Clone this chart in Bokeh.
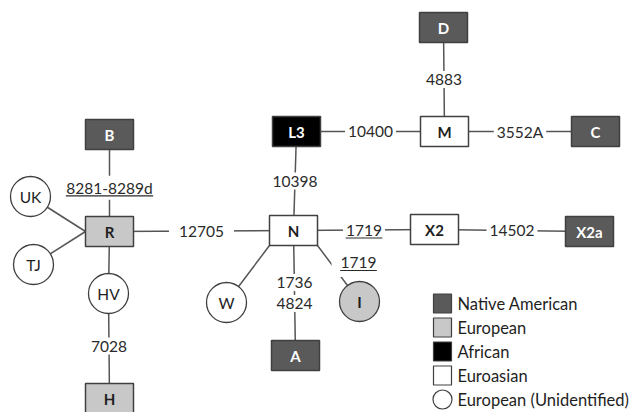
from bokeh.plotting import figure
from bokeh.models import Range1d
from bokeh.core.properties import value
from bokeh.embed import file_html
from bokeh.resources import INLINE

# ---------------- data ----------------
node_names = ["D", "M", "L3", "C", "N", "X2", "X2a", "B", "R", "H", "A",
              "UK", "TJ", "HV", "W", "I"]
node_x = [443, 444, 296, 595, 293, 434, 589, 109, 109, 109, 295,
          30, 33, 108, 226, 359]
node_y = [27, 131, 131, 131, 230, 229, 231, 134, 231, 398, 355,
          196, 264, 293, 302, 301]
node_kind = ["Native American", "Euroasian", "African", "Native American",
             "Euroasian", "Euroasian", "Native American", "Native American",
             "European", "European", "Native American",
             "European (Unidentified)", "European (Unidentified)",
             "European (Unidentified)", "European (Unidentified)", "European"]
node_shape = ["box"] * 11 + ["circle"] * 5

edge_source = ["D", "L3", "M", "L3", "R", "N", "X2", "B", "UK", "TJ", "R", "HV", "N", "N", "N"]
edge_target = ["M", "M", "C", "N", "N", "X2", "X2a", "R", "R", "R", "HV", "H", "W", "A", "I"]
edge_labels = ["4883", "10400", "3552A", "10398", "12705", "1719", "14502",
               "8281-8289d", "", "", "", "7028", "", "1736\n4824", "1719"]
edge_underlined = [False, False, False, False, False, True, False,
                   True, False, False, False, False, False, False, True]

legend_labels = ["Native American", "European", "African", "Euroasian",
                 "European (Unidentified)"]
legend_shapes = ["box", "box", "box", "box", "circle"]

# ---------------- styles ----------------
kind_fill = {"Native American": "#5a5a5a", "European": "#c8c8c8",
             "African": "#000000", "Euroasian": "#ffffff",
             "European (Unidentified)": "#ffffff"}
kind_text = {"Native American": "#ffffff", "European": "#1e1e1e",
             "African": "#ffffff", "Euroasian": "#1e1e1e",
             "European (Unidentified)": "#1e1e1e"}
BOX_W, BOX_H, RAD = 48, 30, 20
LINE_C = "#555555"
EDGE_C = "#404040"
TXT_C = "#2a2a2a"
FONT = value("Lato")
LAB_SIZE = 15.5

src_anchor = {("N", "W"): "bl", ("N", "I"): "br"}
tgt_anchor = {("UK", "R"): "l", ("TJ", "R"): "l"}
label_t = {"8281-8289d": 0.55}
label_override = {("N", "I"): (358, 262)}
label_pad = {"12705": 10}

pos = {n: (x, y) for n, x, y in zip(node_names, node_x, node_y)}


def anchor(n, a):
    x, y = pos[n]
    if a == "bl":
        return x - BOX_W / 2, y + BOX_H / 2
    if a == "br":
        return x + BOX_W / 2, y + BOX_H / 2
    if a == "l":
        return x - BOX_W / 2, y
    return x, y


def text_w(s, size=LAB_SIZE):
    w = 0
    for ch in s:
        if ch.isdigit():
            w += 0.58 * size
        elif ch == "-":
            w += 0.33 * size
        else:
            w += 0.55 * size
    return w


p = figure(width=644, height=412, output_backend="svg", toolbar_location=None,
           x_range=Range1d(0, 644), y_range=Range1d(412, 0),
           min_border=0, outline_line_color=None)
p.axis.visible = False
p.grid.visible = False
p.background_fill_color = "white"

# edges
x0s, y0s, x1s, y1s = [], [], [], []
for s, t in zip(edge_source, edge_target):
    a = anchor(s, src_anchor.get((s, t), "c"))
    b = anchor(t, tgt_anchor.get((s, t), "c"))
    x0s.append(a[0]); y0s.append(a[1]); x1s.append(b[0]); y1s.append(b[1])
p.segment(x0s, y0s, x1s, y1s, line_color=LINE_C, line_width=1.5)

# nodes
bx = [x for x, sh in zip(node_x, node_shape) if sh == "box"]
by = [y for y, sh in zip(node_y, node_shape) if sh == "box"]
bk = [k for k, sh in zip(node_kind, node_shape) if sh == "box"]
p.rect(bx, by, width=BOX_W, height=BOX_H, fill_color=[kind_fill[k] for k in bk],
       line_color=EDGE_C, line_width=1.5)
cx = [x for x, sh in zip(node_x, node_shape) if sh == "circle"]
cy = [y for y, sh in zip(node_y, node_shape) if sh == "circle"]
ck = [k for k, sh in zip(node_kind, node_shape) if sh == "circle"]
p.circle(cx, cy, radius=RAD, fill_color=[kind_fill[k] for k in ck],
         line_color=EDGE_C, line_width=1.3)

# node labels
bold_n = [(n, x, y, k) for n, x, y, k in zip(node_names, node_x, node_y, node_kind)
          if k != "European (Unidentified)"]
p.text([b[1] for b in bold_n], [b[2] for b in bold_n], text=[b[0] for b in bold_n],
       text_color=[kind_text[b[3]] for b in bold_n], text_font=FONT,
       text_font_style="bold", text_font_size="15px",
       text_align="center", text_baseline="middle")
reg_n = [(n, x, y) for n, x, y, k in zip(node_names, node_x, node_y, node_kind)
         if k == "European (Unidentified)"]
p.text([b[1] for b in reg_n], [b[2] for b in reg_n], text=[b[0] for b in reg_n],
       text_color="#1e1e1e", text_font=FONT, text_font_size="15.5px",
       text_align="center", text_baseline="middle")

# edge labels
groups = {}
ul_x0, ul_x1, ul_y = [], [], []
for s, t, lab, ul in zip(edge_source, edge_target, edge_labels, edge_underlined):
    if not lab:
        continue
    (xa, ya), (xb, yb) = pos[s], pos[t]
    tt = label_t.get(lab, 0.5)
    lx, ly = xa + (xb - xa) * tt, ya + (yb - ya) * tt
    if (s, t) in label_override:
        lx, ly = label_override[(s, t)]
    lines = lab.split("\n")
    for i, ln in enumerate(lines):
        yy = ly + (i - (len(lines) - 1) / 2) * 21
        pad = label_pad.get(ln, 3)
        if (s, t) in label_override:
            pad = 9
        groups.setdefault(pad, []).append((lx, yy, ln))
        if ul:
            w = text_w(ln) * 1.02
            ul_x0.append(lx - w / 2); ul_x1.append(lx + w / 2); ul_y.append(yy + 8)

for pad, items in groups.items():
    p.text([i[0] for i in items], [i[1] for i in items], text=[i[2] for i in items],
           text_color=TXT_C, text_font=FONT, text_font_size=f"{LAB_SIZE}px",
           text_align="center", text_baseline="middle",
           background_fill_color="white", padding=pad)
p.segment(ul_x0, ul_y, ul_x1, ul_y, line_color=TXT_C, line_width=1.2)

# legend
LX, LY0, LDY = 442, 303, 24
for i, (lab, sh) in enumerate(zip(legend_labels, legend_shapes)):
    yy = LY0 + i * LDY
    if sh == "box":
        p.rect([LX], [yy], width=18, height=19, fill_color=kind_fill[lab],
               line_color=EDGE_C, line_width=1.2)
    else:
        p.circle([LX], [yy], radius=9.5, fill_color="white",
                 line_color=EDGE_C, line_width=1.2)
p.text([LX + 15] * len(legend_labels), [LY0 + i * LDY for i in range(len(legend_labels))],
       text=legend_labels, text_color="#1e1e1e", text_font=FONT,
       text_font_size="16.5px", text_align="left", text_baseline="middle")

open("out.html", "w").write(file_html(p, INLINE))
